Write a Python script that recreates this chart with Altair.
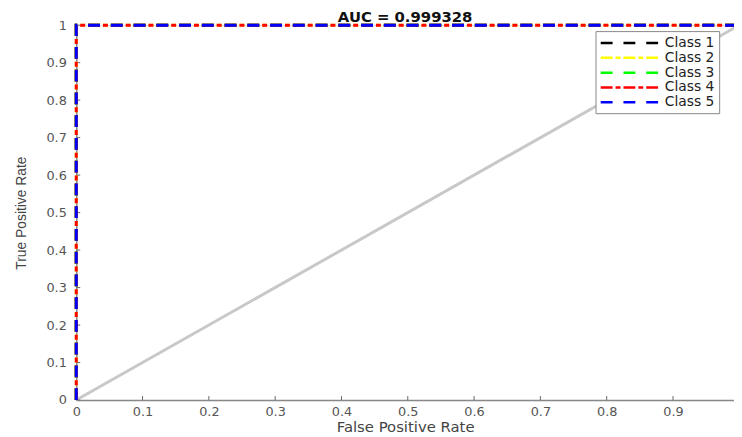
import altair as alt
import pandas as pd

classes = ["Class 1", "Class 2", "Class 3", "Class 4", "Class 5"]
class_colors = ["#000000", "#ffff00", "#00ff00", "#ff0000", "#0000ff"]
class_dashes = [[12, 11], [12, 3, 5, 3], [12, 11], [12, 3, 5, 3], [12, 11]]
fpr = [0.0, 0.0, 1.0]
tpr = [0.0, 1.0, 1.0]
diag_x = [0.0, 1.0]
diag_y = [0.0, 1.0]
tick_vals = [0.0, 0.1, 0.2, 0.3, 0.4, 0.5, 0.6, 0.7, 0.8, 0.9, 1.0]
x_ticks = [0.0, 0.1, 0.2, 0.3, 0.4, 0.5, 0.6, 0.7, 0.8, 0.9]
auc_title = "AUC = 0.999328"

rows = []
for ci, c in enumerate(classes):
    for i, (a, b) in enumerate(zip(fpr, tpr)):
        rows.append({"cls": c, "fpr": a, "tpr": b, "ord": i, "ci": ci})
roc = pd.DataFrame(rows)
diag = pd.DataFrame({"fpr": diag_x, "tpr": diag_y})
xt = pd.DataFrame({"t": x_ticks})
yt = pd.DataFrame({"t": tick_vals})

W, H = 665, 379
FONT = "DejaVu Sans"
xscale = alt.Scale(domain=[0, 0.992], nice=False, zero=False)
yscale = alt.Scale(domain=[0, 1], nice=False, zero=False)

xaxis = alt.Axis(values=x_ticks, format=".1~f", ticks=False, grid=False,
                 domainColor="#888888", domainWidth=1.5, labelColor="#555555",
                 labelFont=FONT, labelFontSize=13, labelPadding=6,
                 labelOverlap=False, labelFlush=False,
                 title="False Positive Rate", titleFont=FONT, titleFontSize=15,
                 titleFontWeight="normal", titleColor="#444444", titlePadding=1)
yaxis = alt.Axis(values=tick_vals, format=".1~f", ticks=False, grid=False,
                 domainColor="#888888", domainWidth=1.5, labelColor="#555555",
                 labelFont=FONT, labelFontSize=13, labelPadding=10,
                 labelOverlap=False, labelFlush=False,
                 title="True Positive Rate", titleFont="Liberation Sans",
                 titleFontSize=14, titleFontWeight="normal", titleColor="#444444",
                 titlePadding=18)

diag_layer = alt.Chart(diag).mark_line(color="#c8c8c8", strokeWidth=3).encode(
    x=alt.X("fpr:Q", scale=xscale, axis=xaxis),
    y=alt.Y("tpr:Q", scale=yscale, axis=yaxis),
)

xtick_layer = alt.Chart(xt).mark_rule(color="#666666", strokeWidth=1).encode(
    x=alt.X("t:Q", scale=xscale, axis=xaxis),
    y=alt.value(H), y2=alt.value(H - 4),
)
ytick_layer = alt.Chart(yt).mark_rule(color="#666666", strokeWidth=1).encode(
    y=alt.Y("t:Q", scale=yscale, axis=yaxis),
    x=alt.value(0), x2=alt.value(4),
)

roc_layer = alt.Chart(roc).mark_line(strokeWidth=3, strokeCap="butt").encode(
    x=alt.X("fpr:Q", scale=xscale, axis=xaxis),
    y=alt.Y("tpr:Q", scale=yscale, axis=yaxis),
    color=alt.Color("cls:N", scale=alt.Scale(domain=classes, range=class_colors),
                    legend=alt.Legend(title=None, orient="none", legendX=525, legendY=6,
                                      symbolType="M-1,0H8", symbolSize=182,
                                      symbolStrokeWidth=2.5, labelFont=FONT,
                                      labelFontSize=14, labelColor="#222222",
                                      rowPadding=-5.5, labelOffset=50,
                                      fillColor="white", strokeColor="#888888",
                                      padding=4)),
    strokeDash=alt.StrokeDash("cls:N", scale=alt.Scale(domain=classes, range=class_dashes),
                              legend=None),
    order=alt.Order("ord:Q"),
    detail="cls:N",
)

chart = alt.layer(diag_layer, xtick_layer, ytick_layer, roc_layer).properties(
    width=W, height=H,
    title=alt.TitleParams(auc_title, font=FONT, fontSize=15, fontWeight="bold",
                          color="#111111", anchor="middle", offset=-6),
    autosize=alt.AutoSizeParams(type="none"),
    padding={"left": 69, "top": 15, "right": 0, "bottom": 34},
).configure_view(stroke=None).configure(background="white")

chart.save("out.html", embed_options={"renderer": "svg", "actions": False})
